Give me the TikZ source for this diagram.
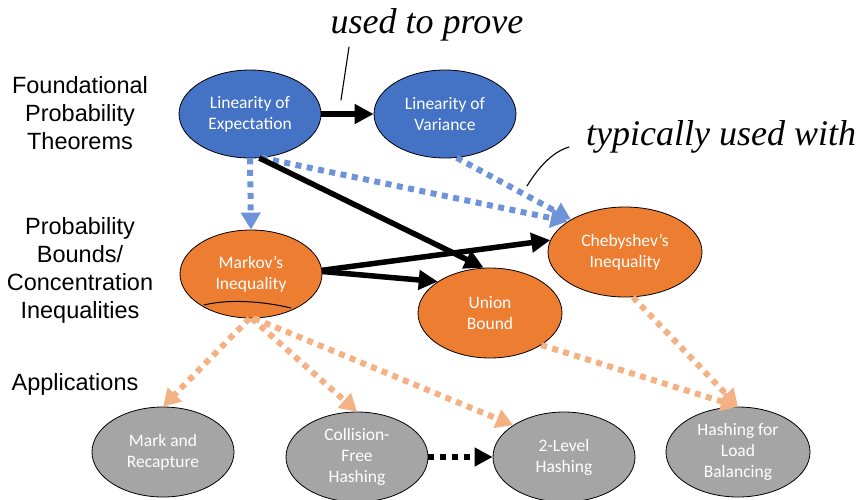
\documentclass[tikz,border=0pt]{standalone}
\usepackage{fontspec}
\setmainfont{Liberation Sans}
\newfontfamily\calib{Carlito}
\newfontfamily\hand{Liberation Serif}
\usetikzlibrary{shapes.geometric,arrows.meta}
\definecolor{nblue}{HTML}{4472C4}
\definecolor{norange}{HTML}{ED7D31}
\definecolor{ngray}{HTML}{A5A5A5}
\definecolor{lblue}{HTML}{6F93D8}
\definecolor{lorange}{HTML}{F4B183}
\begin{document}
\begin{tikzpicture}[x=1pt,y=-1pt,
  ell/.style={ellipse, draw=black, line width=0.8pt, inner sep=0pt,
    minimum width=142pt, minimum height=88pt, text=white,
    font=\calib\fontsize{17.5}{21}\selectfont, align=center},
  lab/.style={font=\fontsize{23.5}{28}\selectfont, align=center},
  bdash/.style={draw=lblue, line width=6pt, dash pattern=on 6pt off 5.5pt,
    -{Triangle[length=17pt,width=19pt]}, lblue},
  odash/.style={draw=lorange, line width=6pt, dash pattern=on 6pt off 5.5pt,
    -{Triangle[length=17pt,width=19pt]}, lorange},
  blk/.style={draw=black, line width=5.5pt, -{Triangle[length=19pt,width=19pt]}},
  kdot/.style={draw=black, line width=6pt, dash pattern=on 6pt off 6pt,
    -{Triangle[length=18pt,width=18pt]}},
  handtext/.style={font=\hand\itshape\fontsize{36}{36}\selectfont, anchor=base, inner sep=0pt},
  handline/.style={draw=black, line width=1.1pt, line cap=round}]
\useasboundingbox (0,0) rectangle (868,499);

% row labels
\node[lab] (t1) at (80,113.5) {Foundational\\Probability\\Theorems};
\node[lab] (t2) at (80,270) {Probability\\Bounds/\\Concentration\\Inequalities};
\node[lab] (t3) at (75,384) {Applications};

% nodes
\node[ell, fill=nblue] (le) at (250,114) {Linearity of\\Expectation};
\node[ell, fill=nblue] (lv) at (445,114) {Linearity of\\Variance};
\node[ell, fill=norange] (mk) at (251,274) {Markov’s\\Inequality};
\node[ell, fill=norange, minimum width=154pt, minimum height=90pt] (cb) at (625,252) {Chebyshev’s\\Inequality};
\node[ell, fill=norange, minimum width=144pt, minimum height=90pt] (ub) at (490,313) {Union\\Bound};
\node[ell, fill=ngray, minimum height=90pt] (mr) at (163,452) {Mark and\\Recapture};
\node[ell, fill=ngray, minimum height=90pt] (cf) at (357,457) {Collision-\\Free\\Hashing};
\node[ell, fill=ngray, minimum height=90pt] (tl) at (564,457) {2-Level\\Hashing};
\node[ell, fill=ngray, minimum height=90pt, minimum width=144pt] (hl) at (738,452) {Hashing for\\Load\\Balancing};

% connectors
\draw[bdash] (le.south) -- (mk.north);
\draw[bdash] (le.-75) -- (cb.152);
\draw[bdash] (lv.-75) -- (cb.149);
\draw[blk] (le.east) -- (lv.west);
\draw[blk] (le.-78) -- (ub.98);
\draw[blk] (mk.3) -- (cb.171);
\draw[blk] (mk.2) -- (ub.149);
\draw[odash] (mk.-92) -- (mr.north);
\draw[odash] (mk.-89) -- (cf.north);
\draw[odash] (mk.-86) -- (tl.148);
\draw[odash] (ub.-32) -- (hl.north);
\draw[odash] (cb.-80) -- (hl.north);
\draw[kdot] (cf.east) -- (tl.west);

% handwritten annotations
\node[handtext] (h1) at (427,33) {used to prove};
\node[handtext] (h2) at (721,145) {typically used with};
\coordinate (p1a) at (349,47);
\coordinate (p1b) at (341,100);
\draw[handline] (p1a) -- (p1b);
\coordinate (p2a) at (527,186);
\coordinate (p2b) at (569,147);
\draw[handline] (p2a) .. controls (538,168) and (552,152) .. (p2b);
\coordinate (u1) at (204,305);
\coordinate (u2) at (291,308);
\draw[handline, line width=1pt] (u1) .. controls (228,299) and (262,301) .. (u2);
\end{tikzpicture}
\end{document}
